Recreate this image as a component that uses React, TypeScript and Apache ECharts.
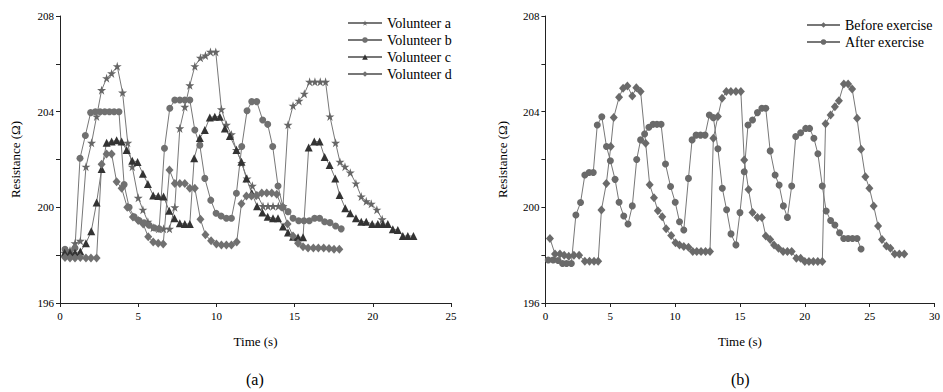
import React, { useEffect, useRef } from "react";
import * as echarts from "echarts";

// ---- Data (time s, resistance Ω) ----
const volunteerA: [number, number][] = [
  [0.3,198.1],[0.64,198.2],[0.96,198.5],[1.3,198.6],[1.66,201.7],[2.02,202.7],[2.34,203.8],[2.66,204.9],[2.98,205.4],[3.3,205.6],[3.66,205.9],[4.0,204.8],[4.33,202.7],[4.62,201.7],[5.0,200.4],[5.3,199.9],[5.62,199.4],[5.96,199.15],[6.3,199.1],[6.62,199.1],[7.0,199.1],[7.34,200.0],[7.66,203.3],[7.98,204.2],[8.3,205.1],[8.62,205.9],[8.98,206.25],[9.3,206.35],[9.62,206.5],[9.96,206.5],[10.32,204.1],[10.64,203.45],[10.96,203.05],[11.28,202.4],[11.62,201.85],[11.96,201.2],[12.3,200.9],[12.62,200.5],[12.98,200.05],[13.3,200.05],[13.62,200.05],[13.96,200.05],[14.26,200.05],[14.58,203.45],[14.9,204.25],[15.28,204.45],[15.62,204.75],[15.96,205.25],[16.3,205.25],[16.64,205.25],[16.98,205.25],[17.26,203.8],[17.62,202.7],[17.9,201.9],[18.22,201.7],[18.56,201.45],[18.92,201.0],[19.26,200.45],[19.58,200.25],[19.9,200.15],[20.26,199.9],[20.6,199.5]
];
const volunteerB: [number, number][] = [
  [0.32,198.25],[0.64,198.1],[0.96,198.3],[1.28,202.05],[1.62,203.0],[1.96,203.96],[2.26,204.0],[2.56,204.0],[2.86,204.0],[3.16,204.0],[3.46,204.0],[3.77,204.0],[4.1,200.95],[4.42,200.0],[4.74,199.6],[5.06,199.45],[5.38,199.35],[5.7,199.25],[6.02,199.15],[6.34,199.1],[6.68,202.47],[7.02,204.14],[7.34,204.49],[7.66,204.49],[7.98,204.49],[8.3,204.49],[8.62,203.23],[8.94,202.6],[9.26,201.21],[9.64,200.3],[9.98,199.75],[10.3,199.64],[10.64,199.54],[10.96,199.54],[11.28,200.59],[11.62,202.54],[11.96,204.04],[12.26,204.42],[12.58,204.42],[12.96,203.65],[13.28,203.47],[13.6,202.54],[13.94,200.89],[14.26,200.0],[14.58,199.82],[14.9,199.54],[15.26,199.44],[15.6,199.44],[15.94,199.44],[16.28,199.54],[16.6,199.54],[16.92,199.4],[17.26,199.36],[17.62,199.22],[17.98,199.1]
];
const volunteerC: [number, number][] = [
  [0.3,198.1],[0.64,198.1],[0.96,198.1],[1.3,198.15],[1.66,198.5],[2.0,199.0],[2.34,200.2],[2.66,201.6],[2.98,202.7],[3.3,202.75],[3.62,202.8],[3.94,202.75],[4.26,202.4],[4.62,201.95],[4.96,201.9],[5.3,201.4],[5.62,200.98],[5.96,200.5],[6.28,200.47],[6.62,200.45],[6.98,199.86],[7.32,199.54],[7.66,199.33],[7.98,199.3],[8.3,199.3],[8.58,202.05],[8.94,202.9],[9.26,203.23],[9.58,203.76],[9.9,203.79],[10.22,203.79],[10.54,203.3],[10.86,202.98],[11.28,202.4],[11.6,201.91],[11.92,201.21],[12.26,200.6],[12.6,200.05],[12.94,199.78],[13.28,199.61],[13.62,199.54],[13.94,199.54],[14.26,199.2],[14.58,198.95],[14.9,198.77],[15.22,198.75],[15.54,198.75],[15.9,202.5],[16.26,202.75],[16.6,202.75],[16.92,202.1],[17.24,201.77],[17.6,201.21],[17.88,200.52],[18.24,199.96],[18.56,199.75],[18.92,199.54],[19.26,199.4],[19.58,199.4],[19.96,199.3],[20.32,199.3],[20.64,199.3],[20.96,199.3],[21.28,199.08],[21.6,199.05],[21.92,198.8],[22.24,198.8],[22.6,198.8]
];
const volunteerD: [number, number][] = [
  [0.32,197.9],[0.64,197.88],[0.96,197.88],[1.3,197.9],[1.66,197.88],[1.98,197.88],[2.34,197.88],[2.66,201.8],[2.98,202.23],[3.3,202.23],[3.62,201.07],[3.94,200.8],[4.3,200.0],[4.66,199.6],[5.0,199.45],[5.32,199.3],[5.64,198.77],[5.96,198.55],[6.28,198.5],[6.6,198.47],[7.0,201.56],[7.34,201.0],[7.66,201.0],[7.98,201.0],[8.3,200.8],[8.62,200.8],[8.98,199.5],[9.3,198.85],[9.66,198.6],[10.0,198.47],[10.32,198.43],[10.64,198.43],[10.96,198.43],[11.3,198.55],[11.6,200.15],[11.92,200.47],[12.24,200.47],[12.56,200.5],[12.9,200.6],[13.22,200.6],[13.54,200.6],[13.86,200.55],[14.2,200.0],[14.55,199.3],[14.9,198.8],[15.22,198.5],[15.54,198.35],[15.86,198.3],[16.2,198.3],[16.52,198.3],[16.86,198.3],[17.2,198.28],[17.52,198.25],[17.86,198.25]
];
const beforeExercise: [number, number][] = [
  [0.35,198.7],[0.74,198.05],[1.12,198.05],[1.45,198.0],[1.8,197.95],[2.2,198.0],[2.6,198.0],[3.04,197.75],[3.4,197.75],[3.75,197.75],[4.07,197.75],[4.32,199.89],[4.7,201.0],[5.04,202.54],[5.27,203.76],[5.68,204.6],[5.99,204.98],[6.32,205.07],[6.7,204.66],[7.01,205.0],[7.34,204.84],[7.73,202.68],[8.04,200.94],[8.37,200.4],[8.67,199.86],[9.01,199.61],[9.31,199.1],[9.7,198.82],[10.03,198.52],[10.34,198.43],[10.67,198.36],[11.03,198.33],[11.36,198.15],[11.67,198.15],[12.0,198.15],[12.35,198.15],[12.69,198.15],[12.95,202.89],[13.3,203.8],[13.62,204.56],[13.95,204.84],[14.3,204.84],[14.69,204.84],[15.07,204.84],[15.33,201.98],[15.66,200.75],[15.97,199.78],[16.35,199.57],[16.69,199.57],[16.99,198.8],[17.33,198.66],[17.63,198.43],[17.97,198.29],[18.33,198.15],[18.66,198.15],[18.99,198.15],[19.35,197.87],[19.68,197.87],[20.0,197.73],[20.32,197.73],[20.66,197.73],[21.0,197.73],[21.35,197.73],[21.6,203.5],[21.99,203.86],[22.32,204.21],[22.63,204.46],[23.01,205.16],[23.34,205.16],[23.65,204.95],[24.03,203.72],[24.34,202.43],[24.67,201.28],[24.98,200.8],[25.31,200.06],[25.65,199.22],[25.95,198.66],[26.29,198.38],[26.6,198.29],[26.93,198.05],[27.29,198.05],[27.67,198.05]
];
const afterExercise: [number, number][] = [
  [0.22,197.8],[0.6,197.8],[0.98,197.78],[1.32,197.65],[1.63,197.65],[2.0,197.65],[2.35,199.68],[2.71,200.2],[3.04,201.35],[3.37,201.46],[3.69,201.46],[4.0,203.44],[4.35,203.79],[4.71,202.54],[5.01,201.95],[5.37,201.17],[5.68,200.21],[6.04,199.64],[6.37,199.3],[6.7,200.06],[7.04,202.0],[7.34,202.82],[7.65,203.07],[7.98,203.35],[8.3,203.47],[8.6,203.47],[8.92,203.47],[9.26,201.81],[9.65,200.87],[10.01,200.21],[10.34,199.4],[10.67,199.05],[11.03,201.21],[11.31,202.82],[11.62,203.02],[11.96,203.02],[12.31,203.02],[12.64,203.86],[12.95,203.75],[13.3,202.45],[13.64,200.8],[13.97,199.9],[14.31,198.89],[14.69,198.43],[15.0,199.78],[15.33,201.49],[15.62,203.44],[15.97,203.65],[16.35,203.96],[16.69,204.14],[16.99,204.14],[17.33,202.36],[17.71,201.35],[18.02,200.93],[18.35,200.06],[18.66,199.58],[18.99,200.89],[19.3,202.96],[19.68,203.12],[20.07,203.3],[20.37,203.3],[20.7,202.89],[21.01,202.24],[21.35,200.89],[21.65,199.85],[21.99,199.45],[22.32,199.26],[22.68,198.94],[23.0,198.7],[23.34,198.7],[23.68,198.7],[24.03,198.7],[24.34,198.26]
];

const leftNames = ["Volunteer a", "Volunteer b", "Volunteer c", "Volunteer d"];
const rightNames = ["Before exercise", "After exercise"];
const captions = ["(a)", "(b)"];

const FONT = "'Liberation Serif', 'Times New Roman', serif";
const STAR = "path://M50,0 L61,35 L98,35 L68,57 L79,91 L50,70 L21,91 L32,57 L2,35 L39,35 Z";

function yAxis(gridIndex: number, gap: number) {
  return {
    type: "value", gridIndex, min: 196, max: 208, interval: 2,
    name: "Resistance (Ω)", nameLocation: "middle", nameGap: gap,
    nameTextStyle: { fontFamily: FONT, fontSize: 13, color: "#000" },
    axisLine: { show: true, lineStyle: { color: "#222", width: 1 } },
    axisTick: { show: true, length: 4, lineStyle: { color: "#222" } },
    axisLabel: { fontFamily: FONT, fontSize: 11, color: "#000", margin: 6,
      formatter: (v: number) => (v % 4 === 0 ? String(v) : "") },
    splitLine: { show: false },
  };
}
function xAxis(gridIndex: number, max: number) {
  return {
    type: "value", gridIndex, min: 0, max, interval: 5,
    name: "Time (s)", nameLocation: "middle", nameGap: 32,
    nameTextStyle: { fontFamily: FONT, fontSize: 13, color: "#000" },
    axisLine: { show: true, onZero: false, lineStyle: { color: "#222", width: 1 } },
    axisTick: { show: true, length: 4, lineStyle: { color: "#222" } },
    axisLabel: { fontFamily: FONT, fontSize: 11, color: "#000", margin: 7 },
    splitLine: { show: false },
  };
}
function line(name: string, data: [number, number][], idx: number, symbol: string, size: number | number[], color: string) {
  return {
    type: "line", name, data, xAxisIndex: idx, yAxisIndex: idx,
    symbol, symbolSize: size, showSymbol: true, showAllSymbol: true,
    lineStyle: { color: "#777", width: 1 },
    itemStyle: { color },
    emphasis: { disabled: true }, silent: true,
  };
}

export default function App() {
  const ref = useRef<HTMLDivElement>(null);
  useEffect(() => {
    if (!ref.current) return;
    const chart = echarts.init(ref.current, null, { renderer: "svg" });
    const legendText = { fontFamily: FONT, fontSize: 14, color: "#000", lineHeight: 14 };
    chart.setOption({
      animation: false,
      backgroundColor: "#fff",
      grid: [
        { left: 60, top: 16, width: 391, height: 287 },
        { left: 545.4, top: 16, width: 390.6, height: 287 },
      ],
      xAxis: [xAxis(0, 25), xAxis(1, 30)],
      yAxis: [yAxis(0, 38), yAxis(1, 36)],
      legend: [
        { data: leftNames, orient: "vertical", left: 342, top: 11, itemWidth: 34, itemHeight: 7, itemGap: 3, textStyle: legendText, selectedMode: false },
        { data: rightNames, orient: "vertical", left: 801, top: 13, itemWidth: 33, itemHeight: 7, itemGap: 3, textStyle: legendText, selectedMode: false },
      ],
      series: [
        line(leftNames[0], volunteerA, 0, STAR, 9, "#666"),
        line(leftNames[1], volunteerB, 0, "circle", 7, "#707070"),
        line(leftNames[2], volunteerC, 0, "triangle", 8, "#333"),
        line(leftNames[3], volunteerD, 0, "diamond", [8, 9], "#707070"),
        line(rightNames[0], beforeExercise, 1, "diamond", [8, 9], "#6a6a6a"),
        line(rightNames[1], afterExercise, 1, "circle", 7, "#6a6a6a"),
      ],
      graphic: [
        { type: "text", left: 246, top: 371, style: { text: captions[0], font: `16px ${FONT}`, fill: "#000" } },
        { type: "text", left: 731, top: 371, style: { text: captions[1], font: `16px ${FONT}`, fill: "#000" } },
      ],
    });
    return () => chart.dispose();
  }, []);
  return <div ref={ref} style={{ position: "fixed", left: 0, top: 0, width: 943, height: 392 }} />;
}
